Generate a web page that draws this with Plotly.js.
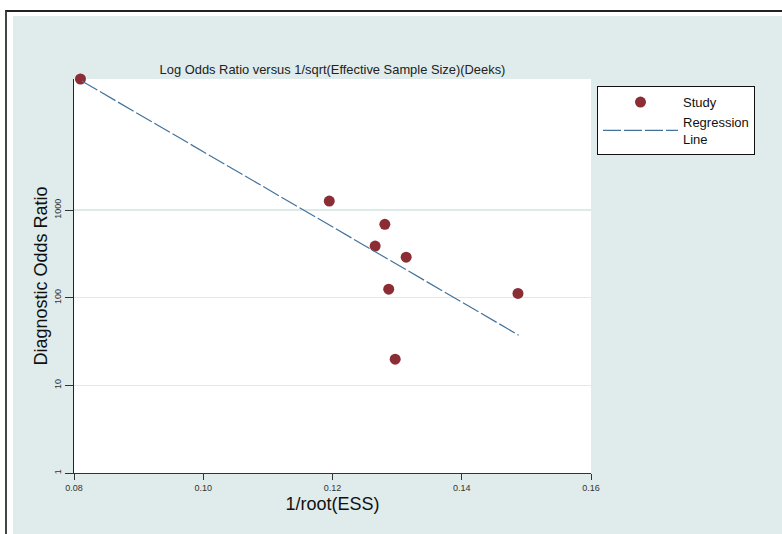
<!DOCTYPE html>
<html>
<head>
<meta charset="utf-8">
<script src="https://cdn.plot.ly/plotly-3.0.1.min.js"></script>
<style>
  html, body { margin: 0; padding: 0; background: #ffffff; width: 782px; height: 534px; overflow: hidden; }
  #frame { position: absolute; left: 5px; top: 10px; width: 777px; height: 524px;
           border-top: 2px solid #222; border-left: 2px solid #444; box-sizing: border-box; }
  #chart { position: absolute; left: 13px; top: 16px; width: 769px; height: 518px; }
</style>
</head>
<body>
<div id="frame"></div>
<div id="chart"></div>
<script>
// Study points: 1/sqrt(ESS) and diagnostic odds ratio
const invRootESS = [0.0810, 0.1195, 0.1281, 0.1266, 0.1314, 0.1287, 0.1297, 0.1487];
const diagOR     = [31300, 1268, 687, 388, 290, 125, 19.9, 112];

// Regression line end points
const regX = [0.0812, 0.1488];
const regY = [29700, 37.4];

const xTickVals = [0.08, 0.10, 0.12, 0.14, 0.16];
const xTickText = ["0.08", "0.10", "0.12", "0.14", "0.16"];
const yTickVals = [1, 10, 100, 1000];
const yTickText = ["1", "10", "100", "1000"];

const pointColor = "#8c2d36";
const lineColor = "#43729b";
const bg = "#dfeceb";

const traces = [
  {
    x: invRootESS, y: diagOR, type: "scatter", mode: "markers", name: "Study",
    marker: { color: pointColor, size: 11, line: { width: 0 } },
    cliponaxis: false
  },
  {
    x: regX, y: regY, type: "scatter", mode: "lines", name: "Regression<br>Line",
    line: { color: lineColor, width: 1.2, dash: "18px,3px" }
  }
];

const yTop = Math.log10(Math.max(...diagOR));

const layout = {
  width: 769, height: 518,
  margin: { l: 61, r: 191, t: 63, b: 61 },
  paper_bgcolor: bg,
  plot_bgcolor: "#ffffff",
  font: { family: "Liberation Sans, Arial, sans-serif", color: "#222" },
  title: {
    text: "Log Odds Ratio versus 1/sqrt(Effective Sample Size)(Deeks)",
    font: { size: 12.9, color: "#222" },
    x: 0.5, xref: "paper", xanchor: "center",
    y: 1, yref: "paper", yanchor: "bottom", pad: { b: 5 }
  },
  xaxis: {
    range: [0.08, 0.16],
    tickvals: xTickVals, ticktext: xTickText,
    ticks: "outside", ticklen: 6, tickwidth: 1, tickcolor: "#333",
    tickfont: { size: 9, color: "#333" },
    showline: true, linecolor: "#333", linewidth: 1.3,
    showgrid: false, zeroline: false,
    title: { text: "1/root(ESS)", font: { size: 18, color: "#111" }, standoff: 5 }
  },
  yaxis: {
    type: "log",
    range: [0, yTop],
    tickvals: yTickVals, ticktext: yTickText,
    tickangle: -90,
    ticks: "outside", ticklen: 8, tickwidth: 1, tickcolor: "#333",
    tickfont: { size: 9, color: "#333" },
    showline: true, linecolor: "#222", linewidth: 1.5,
    showgrid: true, gridcolor: "#dcebea", gridwidth: 1.2,
    zeroline: false,
    title: { text: "Diagnostic Odds Ratio", font: { size: 18, color: "#111" }, standoff: 0 }
  },
  showlegend: true,
  legend: {
    x: 1.0116, xanchor: "left", y: 0.982, yanchor: "top",
    bgcolor: "#ffffff", bordercolor: "#111", borderwidth: 1,
    font: { size: 13, color: "#111" },
    itemwidth: 75, tracegroupgap: 0,
    entrywidth: 160, entrywidthmode: "pixels"
  }
};

Plotly.newPlot("chart", traces, layout, { displayModeBar: false, staticPlot: true });
</script>
</body>
</html>
